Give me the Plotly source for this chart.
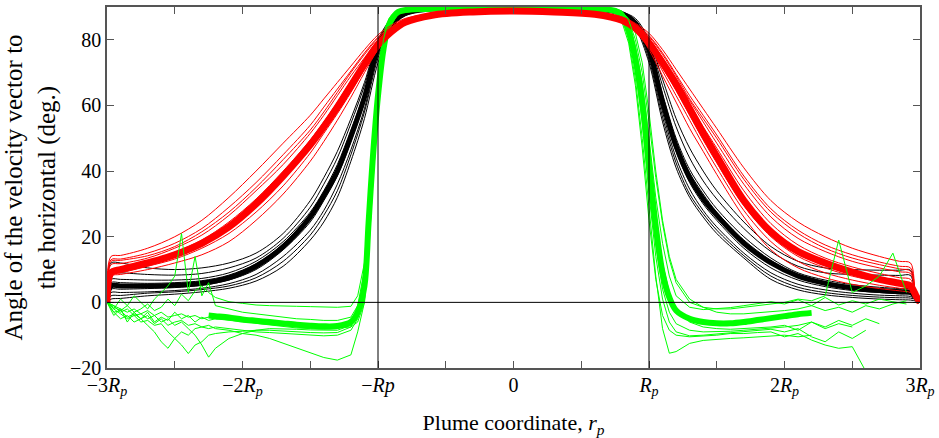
import plotly.graph_objects as go

# ---------------- data ----------------
# shared abscissa (units of plume radius R_p) for the black and red families
X = [-3.0, -2.97, -2.9, -2.7, -2.5, -2.3, -2.1, -1.9, -1.7, -1.5,
     -1.4, -1.3, -1.2, -1.1, -1.0, -0.9, -0.8, -0.6, -0.3, 0.0,
     0.3, 0.6, 0.8, 0.9, 1.0, 1.1, 1.2, 1.3, 1.4, 1.5,
     1.7, 1.9, 2.1, 2.3, 2.5, 2.7, 2.85, 2.93, 2.97, 3.0]

black_dense = [0, 5, 5, 5, 5.2, 5.8, 7.5, 11, 17, 26, 32.5, 40, 50.5, 62.5, 77.5, 85, 88, 89.5, 89.6, 89.3,
               89.6, 89.5, 88, 85, 77, 61, 47.5, 38, 31.5, 26.5, 18, 12, 8, 5.8, 4.4, 3.6, 3.2, 3, 1.5, 0]
black_1 = [0, 12, 12, 10.5, 10, 10.5, 12, 15, 21, 31, 38, 46, 56, 67, 80, 86.5, 88.5, 90, 90, 89.7,
           90, 90, 88.5, 86.5, 80, 68, 56, 47, 40, 34, 24.5, 17, 12.5, 10.5, 10, 9.8, 9.8, 9.8, 1, 0]
black_2 = [0, 9, 9, 8.5, 8.3, 8.8, 10.5, 13.5, 19.5, 29, 36, 44, 54.5, 66, 79.5, 86, 88.4, 89.8, 89.8, 89.5,
           89.8, 89.8, 88.4, 86, 79, 66, 53.5, 44, 37, 31.5, 22.5, 15.5, 11, 9, 8.5, 8.3, 8.2, 8.2, 1, 0]
black_3 = [0, 7, 7, 6.8, 6.8, 7.3, 9, 12.5, 18.5, 27.5, 34, 42, 52.5, 64, 78.5, 85.5, 88.2, 89.6, 89.7, 89.4,
           89.7, 89.6, 88.2, 85.5, 78, 63.5, 50, 40.5, 34, 28.5, 20, 13.5, 9, 6.8, 5.4, 4.6, 4.2, 4, 1.5, 0]
black_4 = [0, 4, 4, 4.2, 4.5, 5.2, 6.8, 10, 16, 24.5, 31, 38.5, 49, 61, 77, 84.8, 87.9, 89.4, 89.6, 89.3,
           89.6, 89.4, 87.9, 84.8, 76, 59.5, 46, 36.5, 30, 25, 16.5, 10.5, 6.8, 4.8, 3.6, 3, 2.6, 2.5, 1.2, 0]
black_5 = [0, 3, 3, 3.2, 3.6, 4.3, 5.7, 8.5, 14, 22, 28, 36, 46.5, 59, 75.5, 84.3, 87.6, 89.3, 89.5, 89.2,
           89.5, 89.3, 87.6, 84.3, 75, 58, 44, 34.5, 28, 23, 15, 9, 5.5, 3.8, 2.8, 2.2, 2, 1.8, 1, 0]
black_6 = [0, 1, 1.2, 2, 2.5, 3.2, 4.3, 6.5, 11, 19, 24.5, 32, 43, 56, 73, 83.5, 87.3, 89.2, 89.4, 89.1,
           89.4, 89.2, 87.3, 83.5, 73, 55, 41, 32, 26, 21, 13.5, 7, 3.8, 2.3, 1.5, 1, 0.8, 0.7, 0.4, 0]
black_7 = [0, 6, 6, 5.8, 6, 6.6, 8.3, 11.8, 17.8, 27, 33.5, 41, 51.5, 63.5, 78, 85.3, 88.1, 89.6, 89.7, 89.4,
           89.7, 89.6, 88.1, 85.3, 77.5, 62, 49, 39.5, 33, 27.5, 19, 12.8, 8.5, 6.3, 5, 4.2, 3.8, 3.6, 1.5, 0]
black_8 = [0, 2, 2.1, 2.8, 3.2, 3.9, 5, 7.5, 12.5, 20.5, 26.5, 34, 45, 58, 74.5, 84, 87.5, 89.3, 89.5, 89.2,
           89.5, 89.3, 87.5, 84, 74, 56.5, 42.5, 33, 27, 22, 14.2, 8, 4.6, 3, 2.1, 1.6, 1.4, 1.3, 0.8, 0]

red_dense = [0, 9, 10, 12, 14.5, 18, 23, 30, 38.5, 48, 53.5, 59.5, 66, 72.5, 78.5, 82.5, 85.3, 87.5, 88.5, 88.8,
             88.5, 87.8, 86, 83.5, 79, 73, 66.5, 59, 51.5, 44.5, 31, 21.5, 15.5, 12, 9.2, 7, 5.8, 5, 2, 0]
red_1 = [0, 14, 14.3, 16.5, 20, 25, 32, 40, 48.5, 57, 62, 67, 72, 77, 81.5, 84.5, 86.5, 88, 89, 89.2,
         89, 88.3, 87, 85, 82, 77, 71, 65, 59, 53, 41, 31, 24.5, 20, 16.5, 14, 12.5, 12, 2, 0]
red_2 = [0, 13, 13.2, 15, 18, 22.5, 29, 36.5, 45, 54, 59.5, 65, 70.5, 76, 80.8, 84, 86.2, 87.9, 88.9, 89.1,
         88.9, 88.2, 86.8, 84.7, 81.3, 76, 69.5, 63, 57, 51, 38.5, 28.5, 22, 17.5, 14.5, 12.3, 11, 10.5, 2, 0]
red_3 = [0, 11.5, 11.8, 13.5, 16.5, 20.5, 26.5, 34, 42, 51.5, 57, 63, 69, 74.5, 80, 83.5, 86, 87.7, 88.7, 89,
         88.7, 88, 86.5, 84.2, 80.5, 74.5, 68, 61.5, 55, 48.5, 36, 26, 19.5, 15.5, 12.5, 10.5, 9.3, 8.8, 2, 0]
red_4 = [0, 10, 10.5, 12.5, 15.3, 19, 24.5, 31.5, 40, 49.5, 55, 61, 67.5, 73.5, 79.3, 83, 85.7, 87.6, 88.6, 88.9,
         88.6, 87.9, 86.3, 84, 80, 73.5, 67, 60.5, 53.5, 47, 34, 24, 17.5, 13.5, 10.8, 8.8, 7.5, 7, 2, 0]
red_5 = [0, 9.5, 9.8, 11.5, 14, 17.5, 22.5, 29.5, 37.5, 47, 52.5, 58.5, 65, 71.5, 78, 82.3, 85.2, 87.4, 88.4, 88.7,
         88.4, 87.6, 85.8, 83.3, 78.5, 71.5, 64.5, 57, 49.5, 42.5, 29.5, 20, 14, 10.5, 8, 6.3, 5.3, 4.8, 1.8, 0]
red_6 = [0, 8.5, 9, 11, 13.2, 16.5, 21, 27.5, 35.5, 45.5, 51.5, 57.5, 64, 71, 77.8, 82.2, 85.1, 87.2, 88.3, 88.5,
         88.3, 87.4, 85.6, 83, 78, 70.5, 63, 55.5, 48, 41, 28, 18.5, 12.5, 9, 6.8, 5.2, 4.3, 3.8, 1.5, 0]
red_7 = [0, 8, 8.5, 10, 12, 14.5, 18.5, 25, 33, 43, 49, 55.5, 62.5, 70, 77, 82, 85, 87, 88, 88.3,
         88, 87.3, 85.5, 83, 77, 69, 61, 53, 46, 39, 26, 16, 10.5, 7.5, 5.5, 4.2, 3.5, 3, 1.5, 0]
red_8 = [0, 12.5, 12.8, 14.2, 17, 21.5, 27.5, 35, 43.5, 52.5, 58, 64, 70, 75.5, 80.5, 83.8, 86.1, 87.8, 88.8, 89,
         88.8, 88.1, 86.6, 84.5, 81, 75.5, 69, 62, 56, 50, 37.5, 27.5, 21, 16.5, 13.5, 11.5, 10.2, 9.5, 2, 0]

# finer abscissa for the noisy green family
XG = [-3.0, -2.95, -2.9, -2.85, -2.8, -2.75, -2.7, -2.65, -2.6, -2.55, -2.5, -2.45, -2.4, -2.35, -2.3, -2.25, -2.2,
      -2.1, -2.0, -1.9, -1.8, -1.7, -1.6, -1.5, -1.4, -1.3,
      -1.2, -1.15, -1.1, -1.07, -1.04, -1.0, -0.96, -0.92, -0.85,
      -0.6, -0.3, 0.0, 0.3, 0.6,
      0.75, 0.8, 0.85, 0.9, 0.95, 1.0, 1.05, 1.1, 1.15, 1.2,
      1.3, 1.4, 1.5, 1.6, 1.7, 1.8, 1.9, 2.0, 2.1, 2.2, 2.3, 2.4, 2.5, 2.6, 2.7, 2.8, 2.9]

green_dense = [None, None, None, None, None, None, None, None, None, None, None, None, None, None, None, -4.0, -4.2,
               -4.6, -5.2, -5.6, -6.0, -6.4, -6.8, -7.1, -7.3, -7.2,
               -6.0, -3.0, 5, 24, 43, 63, 77, 84.5, 88.5,
               89.5, 89.8, 89.8, 89.8, 89.5,
               88.8, 87.5, 83, 74, 61, 42, 23, 9, 1.5, -2.5,
               -5.0, -6.0, -6.4, -6.4, -6.0, -5.4, -4.8, -4.2, -3.6, -3.2, None, None, None, None, None, None, None]
green_1 = [0, -1.5, -2.5, -1.0, -3.0, -2.0, -0.5, -2.5, -1.5, 1.0, -1.0, 2.5, 0.5, 3.5, 5.0, 3.0, 1.5,
           0.2, -0.3, -0.8, -1.0, -1.2, -1.2, -1.3, -1.3, -1.5,
           -1.2, 2, 12, 30, 50, 68, 80, 86, 89,
           89.8, 90.3, 90.2, 90.3, 89.8,
           89.2, 88.3, 85, 78, 67, 50, 32, 18, 8, 2,
           -1.5, -2.2, -2.0, -1.6, -1.0, -0.5, 0.2, -0.5, 0.8, -1.0, 1.5, -0.8, 0.5, -0.5, 1.0, 0.2, -0.5]
green_2 = [0, -3, -5, -4, -6, -5, -7, -9, -12, -14, -11, -9, -10, -8, -7.5, -8, -7.5,
           -8, -8.5, -9, -9.2, -9.5, -9.8, -10, -10.2, -10,
           -8.5, -5, 2, 18, 38, 60, 75, 84, 88.3,
           89.6, 89.9, 90, 89.9, 89.6,
           88.5, 86.5, 80, 68, 50, 28, 8, -8, -15.5, -15,
           -12.5, -11.6, -11.2, -11.0, -10.8, -10.5, -10.2, -10.0, -10.5, -10.0, None, None, None, None, None, None, None]
green_3 = [0, -2, -3.5, -5, -4, -6, -5.5, -7, -6.5, -9, -11, -13, -15.6, -13, -12, -10, -9.5,
           -9, -8.8, -8.5, -8.5, -8.8, -9, -9.2, -9.3, -9.2,
           -7.5, -3, 6, 22, 42, 64, 78, 85.5, 88.8,
           89.7, 90, 90.1, 90, 89.7,
           88.7, 87, 82, 71, 55, 33, 14, 1, -6, -9,
           -10.2, -10, -9.6, -9.2, -8.8, -8.5, -8.2, -9, -8, -10.5, -12, -9, -11, -8.5, None, None, None]
green_4 = [0, -4, -2, -6, -3, -5, -4, -6.5, -5, -7, -6, -5.5, -7, -6.5, -7.5, -7, -8,
           -8.5, -9.5, -10, -11, -12.5, -14, -15.5, -16.8, -17.6,
           -16, -9, 0, 14, 35, 58, 74, 83.5, 88,
           89.6, 89.9, 90, 89.9, 89.6,
           88, 85.5, 79, 66, 47, 25, 7, -4, -8.5, -10,
           -10.5, -10.3, -10, -9.5, -9.5, -9.2, -9, -10.5, -9.5, -11.5, -13, -14, -13.5, -21, None, None, None]
green_5 = [0, -1, -3, -2, -4, -3.5, -5, -4, -6, -5, -7, -6, -8, -10, -13, -16.7, -14,
           -11, -9.5, -8.5, -8, -8, -8.2, -8.4, -8.5, -8.5,
           -7, -2, 8, 27, 47, 66, 79, 85.8, 88.9,
           89.8, 90.1, 90.2, 90.1, 89.8,
           89, 88, 84, 76, 64, 46, 27, 12, 3, -2,
           -6, -7.5, -8, -8.2, -8, -7.8, -7.5, -7, -8.5, -6, -7.5, -5.5, -7, -5, -6.5, None, None]
green_6 = [0, -2, 1, -1, 2, 0, -2, 1, 3, 5, 8, 21, 3, 14, 2, 6, -1,
           -2, -3, -3.5, -4, -4.5, -5, -5.2, -5.5, -5.5,
           -4.5, -1, 10, 28, 48, 67, 80, 86.5, 89.2,
           90, 90.4, 90.5, 90.4, 90,
           89.5, 88.8, 86, 80, 70, 55, 38, 24, 13, 6,
           0, -1.5, -2, -2, -1.5, -1, -0.5, 0, 1, 0.5, 2, 19, 3, 5, 8, 15, 3]
green_7 = [0, -3, -2.5, -4.5, -3.5, -5, -3, -6, -4.5, -5.5, -3, -5, -4, -6, -4.5, -5.5, -5,
           -5.5, -6, -6.5, -7, -7.5, -7.8, -8, -8.2, -8,
           -6.5, -4, 3, 20, 40, 62, 76, 84.8, 88.6,
           89.7, 89.9, 90, 89.9, 89.7,
           88.6, 87, 81.5, 72, 58, 38, 18, 4, -3, -6.5,
           -8.5, -9, -9, -8.8, -8.5, -8.2, -8, -7.5, -7, -6, -8, -6.5, -7.5, None, None, None, None]
green_8 = [0, -1, -2, -3, -2, -3.5, -2.5, -4, -3, -4.5, -4, -3.5, -4.5, -4, -5, -4.5, -5,
           -5, -5.5, -6, -6.5, -7, -7.2, -7.5, -7.8, -7.8,
           -7.5, -6, 0, 15, 36, 59, 75, 84, 88.4,
           89.6, 89.8, 89.9, 89.8, 89.6,
           89.2, 88.5, 86.5, 82, 73, 58, 40, 25, 14, 7,
           1, -1.5, -3, -3.5, -3.5, -3.2, -3, -2.5, -2, -1, -2.5, -1.5, -3, -1, -2, -0.5, 0.5]

# axis ticks and reference lines
XTICK_VALS = [-3, -2, -1, 0, 1, 2, 3]
XTICK_TEXT = ["\u22123<i>R<sub>p</sub></i>", "\u22122<i>R<sub>p</sub></i>", "\u2212<i>Rp</i>", "0",
              "<i>R<sub>p</sub></i>", "2<i>R<sub>p</sub></i>", "3<i>R<sub>p</sub></i>"]
X_MINOR_STEP = 0.5
YTICK_VALS = [-20, 0, 20, 40, 60, 80]
REF_X = [-1, 1]
REF_Y = [0]

# ---------------- figure ----------------
for name, arr, ref in [("black", [black_dense, black_1, black_2, black_3, black_4, black_5, black_6, black_7, black_8], X),
                       ("red", [red_dense, red_1, red_2, red_3, red_4, red_5, red_6, red_7, red_8], X),
                       ("green", [green_dense, green_1, green_2, green_3, green_4, green_5, green_6, green_7, green_8], XG)]:
    for i, a in enumerate(arr):
        if len(a) != len(ref):
            raise ValueError(f"{name} series {i} has {len(a)} values, expected {len(ref)}")

fig = go.Figure()

def add(xs, ys, color, width, shape="linear"):
    fig.add_trace(go.Scatter(x=xs, y=ys, mode="lines",
                             line=dict(color=color, width=width, shape=shape, smoothing=0.9),
                             hoverinfo="skip", showlegend=False, connectgaps=False))

BLACK = "#000000"
RED = "#ff0000"
GREEN = "#00ff00"

for ys in [black_1, black_2, black_3, black_4, black_5, black_6, black_7, black_8]:
    add(X, ys, BLACK, 1, "spline")
add(X, black_dense, BLACK, 5, "spline")

for ys in [green_1, green_2, green_3, green_4, green_5, green_7, green_8]:
    add(XG, ys, GREEN, 1)
add(XG, green_dense, GREEN, 6, "spline")

for ys in [red_1, red_2, red_3, red_4, red_5, red_6, red_7, red_8]:
    add(X, ys, RED, 1, "spline")
add(X, red_dense, RED, 7, "spline")

add(XG, green_6, GREEN, 1)

for v in REF_X:
    fig.add_vline(x=v, line=dict(color="black", width=1), layer="above")
for v in REF_Y:
    fig.add_hline(y=v, line=dict(color="black", width=1), layer="above")

FONT = "Liberation Serif, Times New Roman, serif"
AXCOL = "#555555"

fig.update_layout(
    width=939, height=438,
    margin=dict(l=107, r=19, t=7, b=70),
    paper_bgcolor="white", plot_bgcolor="white",
    font=dict(family=FONT, size=20, color="black"),
    hovermode=False,
    xaxis=dict(range=[-3, 3], tickvals=XTICK_VALS, ticktext=XTICK_TEXT,
               ticks="inside", ticklen=7, tickwidth=1, tickcolor=AXCOL,
               minor=dict(dtick=X_MINOR_STEP, tick0=0, ticks="inside", ticklen=7, tickwidth=1, tickcolor=AXCOL),
               showline=True, linecolor=AXCOL, linewidth=1.5, mirror="ticks",
               showgrid=False, zeroline=False, automargin=False, ticklabelstandoff=-2,
               tickfont=dict(size=20, family=FONT),
               title=dict(text="Plume coordinate, <i>r<sub>p</sub></i>", font=dict(size=22, family=FONT),
                          standoff=18)),
    yaxis=dict(range=[-20, 90], tickvals=YTICK_VALS,
               ticks="inside", ticklen=7, tickwidth=1, tickcolor=AXCOL,
               showline=True, linecolor=AXCOL, linewidth=1.5, mirror="ticks",
               showgrid=False, zeroline=False, automargin=False,
               tickfont=dict(size=20, family=FONT),
               title=dict(text="Angle of the velocity vector to<br>the horizontal (deg.)",
                          font=dict(size=25, family=FONT), standoff=8)),
)

fig.write_html("out.html", config={"displayModeBar": False},
               post_script="document.body.style.margin='0';document.body.style.padding='0';"
                           "document.documentElement.style.overflow='hidden';")
